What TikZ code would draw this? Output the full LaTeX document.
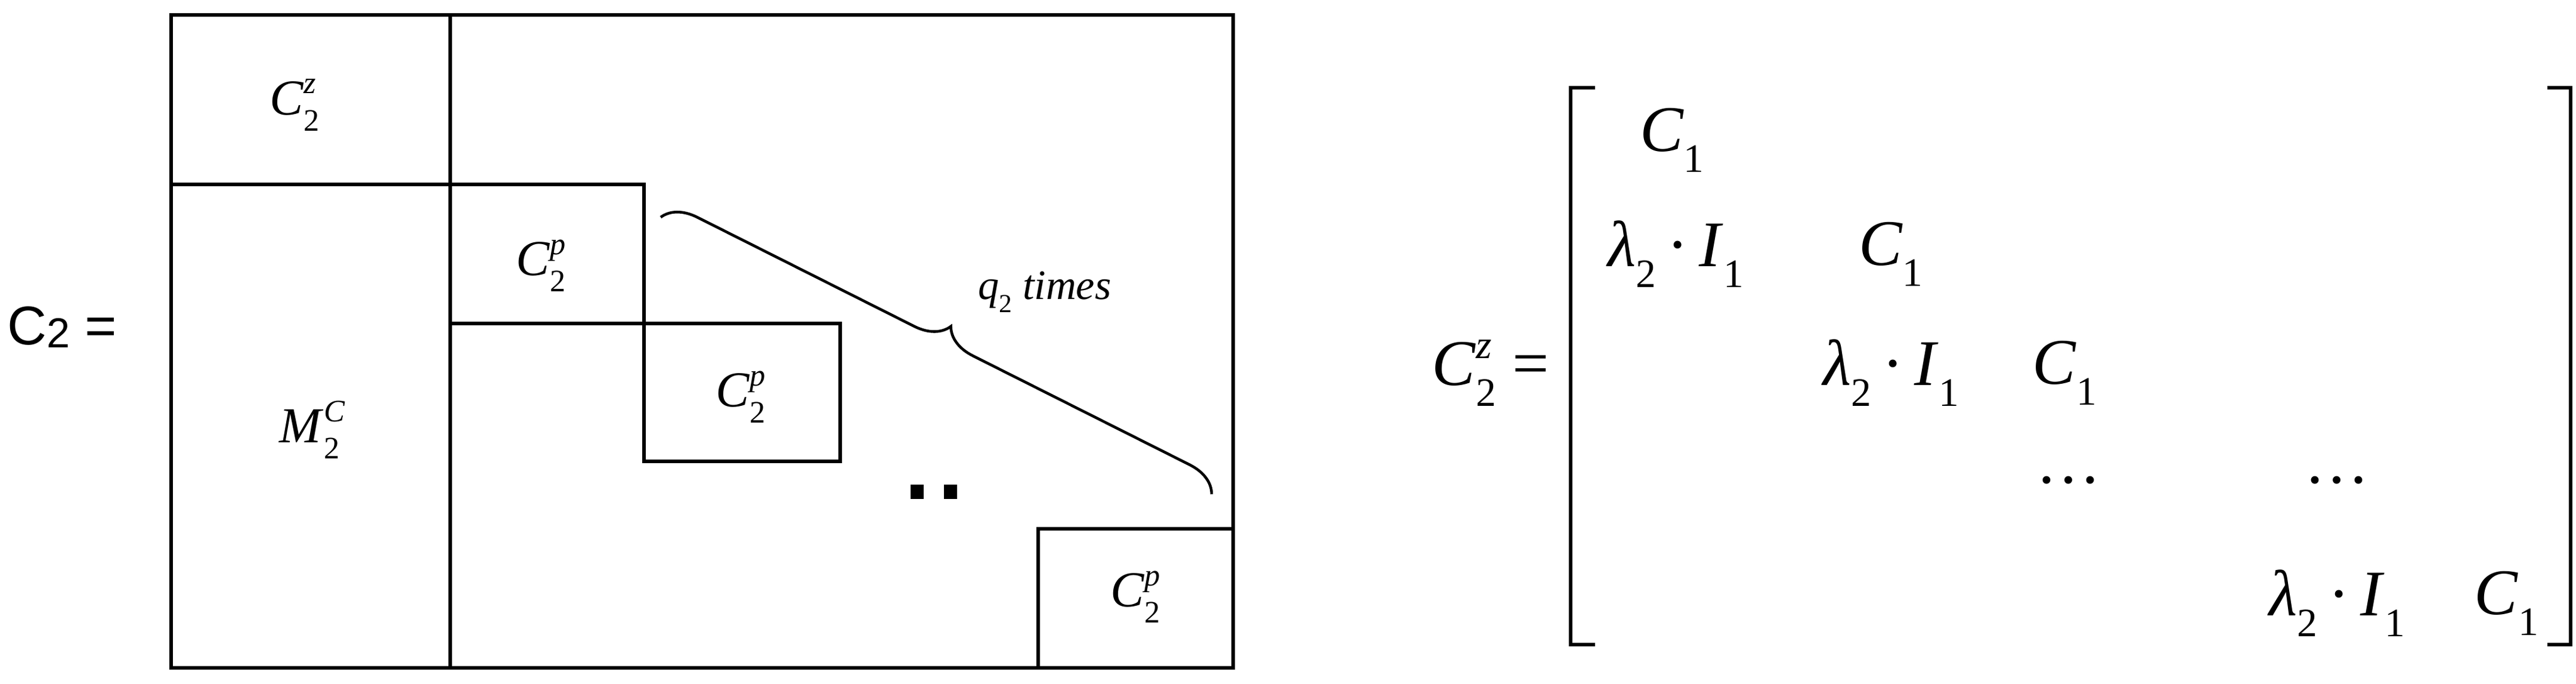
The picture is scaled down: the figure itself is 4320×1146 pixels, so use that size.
\documentclass[tikz,border=0pt]{standalone}
\usepackage{fontspec}
\setmainfont{Liberation Serif}
\newfontfamily\arialf{Liberation Sans}
\usetikzlibrary{decorations.pathreplacing}
\newcommand\SupSub[3]{\textit{#1}\rlap{\raisebox{0.42em}{\fontsize{0.62em}{0.7em}\selectfont\itshape #3}}\raisebox{-0.32em}{\fontsize{0.62em}{0.7em}\selectfont #2}}
\newcommand\Lam{\SupSub{λ}{2}{}\,·\,\SupSub{I}{1}{}}
\begin{document}
\begin{tikzpicture}[x=0.01cm,y=-0.01cm,
  ln/.style={line width=1.5pt},
  lab/.style={inner sep=0pt,font=\fontsize{24pt}{26pt}\selectfont},
  ent/.style={inner sep=0pt,font=\fontsize{31pt}{33pt}\selectfont}]
\useasboundingbox (0,0) rectangle (4320,1146);
% left block matrix
\draw[ln] (287,25) rectangle (2068,1119);
\draw[ln] (755,25) -- (755,1119);
\draw[ln] (287,309) -- (1080,309) -- (1080,542);
\draw[ln] (755,542) -- (1409,542) -- (1409,773) -- (1080,773) -- (1080,542);
\draw[ln] (1741,1119) -- (1741,886) -- (2068,886);
\node[lab] (cz) at (494,176) {\SupSub{C}{2}{z}};
\node[lab] (cp1) at (907,445) {\SupSub{C}{2}{p}};
\node[lab] (cp2) at (1242,665) {\SupSub{C}{2}{p}};
\node[lab] (cp3) at (1904,1000) {\SupSub{C}{2}{p}};
\node[lab] (mc) at (519,720) {\SupSub{M}{2}{C}};
\fill (1527,812) rectangle (1549,836);
\fill (1583,812) rectangle (1605,836);
\coordinate (b1) at (1108,364);
\coordinate (b2) at (2032,828);
\draw[line width=1.3pt,decorate,decoration={brace,amplitude=0.55cm}] (b1) -- (b2);
\node[lab,font=\fontsize{20pt}{22pt}\selectfont] (q) at (1752,489) {\SupSub{q}{2}{}\ \textit{times}};
\node[inner sep=0pt,font=\arialf\fontsize{26pt}{28pt}\selectfont] (c2) at (104,548) {C\raisebox{-0.05em}{\fontsize{20pt}{22pt}\selectfont 2} =};
% right matrix
\node[ent] (lhs) at (2500,625) {\SupSub{C}{2}{z} =};
\draw[ln] (2675,147) -- (2634,147) -- (2634,1080) -- (2675,1080);
\draw[ln] (4272,147) -- (4311,147) -- (4311,1080) -- (4272,1080);
\node[ent] (e11) at (2804,235) {\SupSub{C}{1}{}};
\node[ent] (e21) at (2810,426) {\Lam};
\node[ent] (e22) at (3171,426) {\SupSub{C}{1}{}};
\node[ent] (e32) at (3171,625) {\Lam};
\node[ent] (e33) at (3462,625) {\SupSub{C}{1}{}};
\node[ent] (e43) at (3469,805) {…};
\node[ent] (e44) at (3919,805) {…};
\node[ent] (e54) at (3919,1011) {\Lam};
\node[ent] (e55) at (4203,1011) {\SupSub{C}{1}{}};
\end{tikzpicture}
\end{document}
